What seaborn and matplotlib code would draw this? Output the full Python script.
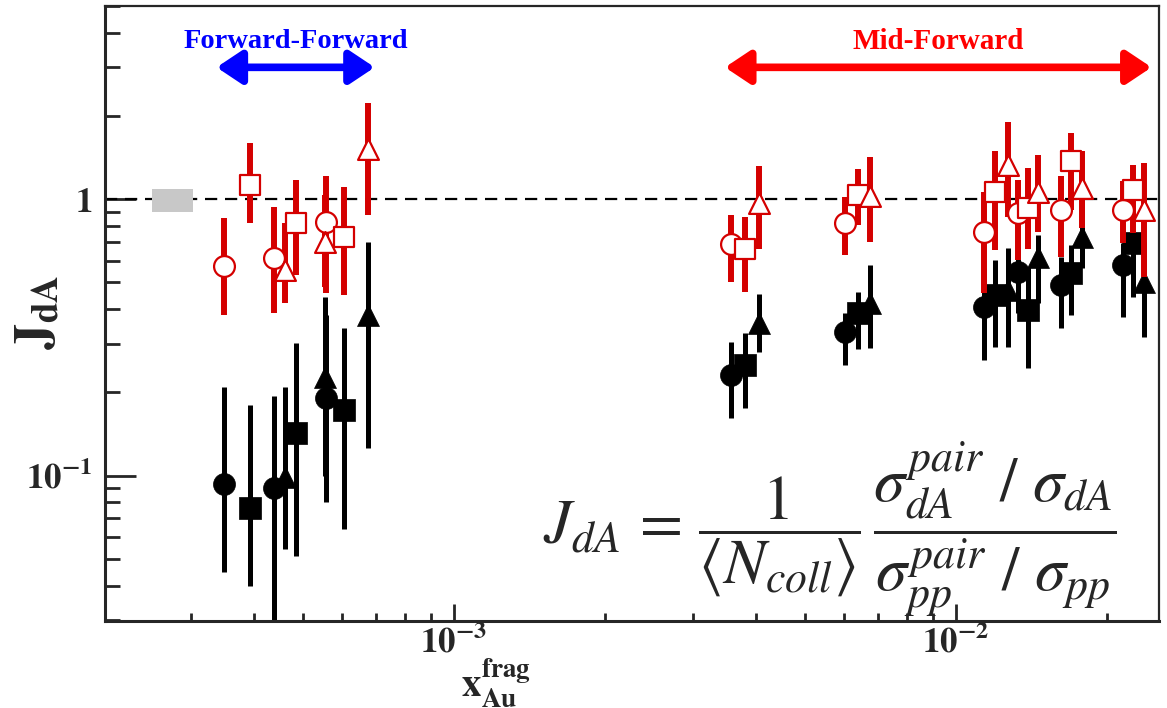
import seaborn as sns
import matplotlib.pyplot as plt
import matplotlib.ticker as mticker
import pandas as pd
import numpy as np

# x positions (x_Au^frag) for each marker shape, forward-forward then mid-forward
x_circle = [3.48e-4, 4.38e-4, 5.56e-4, 3.57e-3, 6.03e-3, 0.01137, 0.01329, 0.01619, 0.02151]
x_square = [3.93e-4, 4.84e-4, 6.04e-4, 3.80e-3, 6.38e-3, 0.01196, 0.01391, 0.01695, 0.02253]
x_triangle = [4.62e-4, 5.53e-4, 6.74e-4, 4.06e-3, 6.75e-3, 0.01269, 0.01457, 0.01782, 0.02368]

# red open markers: value, lower end, upper end of the bar
red_circle = [0.574, 0.613, 0.826, 0.689, 0.821, 0.763, 0.890, 0.915, 0.915]
red_circle_lo = [0.381, 0.388, 0.458, 0.502, 0.629, 0.457, 0.603, 0.620, 0.693]
red_circle_hi = [0.856, 0.938, 1.21, 0.877, 1.02, 1.065, 1.17, 1.21, 1.16]

red_square = [1.126, 0.821, 0.731, 0.661, 1.036, 1.065, 0.93, 1.37, 1.08]
red_square_lo = [0.821, 0.532, 0.451, 0.462, 0.807, 0.655, 0.66, 0.915, 0.755]
red_square_hi = [1.60, 1.17, 1.108, 0.862, 1.29, 1.49, 1.30, 1.74, 1.33]

red_triangle = [0.556, 0.70, 1.52, 0.97, 1.03, 1.33, 1.065, 1.096, 0.915]
red_triangle_lo = [0.421, 0.482, 0.877, 0.661, 0.70, 0.863, 0.76, 0.787, 0.525]
red_triangle_hi = [0.821, 1.035, 2.23, 1.32, 1.42, 1.91, 1.45, 1.49, 1.35]

# black filled markers
blk_circle = [0.0933, 0.0904, 0.191, 0.231, 0.331, 0.407, 0.547, 0.489, 0.578]
blk_circle_lo = [0.0449, 0.02, 0.0804, 0.162, 0.251, 0.262, 0.387, 0.341, 0.376]
blk_circle_hi = [0.2095, 0.194, 0.381, 0.305, 0.388, 0.564, 0.674, 0.620, 0.695]

blk_square = [0.0764, 0.143, 0.173, 0.252, 0.388, 0.450, 0.398, 0.540, 0.693]
blk_square_lo = [0.0399, 0.0513, 0.0641, 0.176, 0.287, 0.293, 0.245, 0.381, 0.444]
blk_square_hi = [0.180, 0.302, 0.342, 0.328, 0.461, 0.603, 0.570, 0.683, 0.755]

blk_triangle = [0.099, 0.2275, 0.381, 0.357, 0.421, 0.470, 0.620, 0.732, 0.503]
blk_triangle_lo = [0.0543, 0.100, 0.126, 0.280, 0.290, 0.293, 0.422, 0.563, 0.318]
blk_triangle_hi = [0.21, 0.443, 0.701, 0.454, 0.578, 0.666, 0.743, 1.04, 0.70]

# normalisation uncertainty box at J=1
norm_box_x = [2.51e-4, 3.02e-4]
norm_box_y = [0.90, 1.09]

# region arrows and labels
ff_range = [3.37e-4, 6.96e-4]
mf_range = [3.47e-3, 0.02455]
arrow_y = 3.0
label_y = 3.72

sns.set_style("ticks")
plt.rcParams["font.family"] = ["Liberation Serif", "DejaVu Serif"]
plt.rcParams["mathtext.fontset"] = "stix"

RED = "#d40000"

fig = plt.figure(figsize=(11.67, 7.08), dpi=100)
ax = fig.add_axes([105 / 1167, 1 - 621 / 708, 1054 / 1167, 615 / 708])
ax.set_xscale("log")
ax.set_yscale("log")
ax.set_xlim(2.02e-4, 0.0254)
ax.set_ylim(0.0298, 5.0)

shapes = [("o", x_circle), ("s", x_square), ("^", x_triangle)]
black = [(blk_circle, blk_circle_lo, blk_circle_hi),
         (blk_square, blk_square_lo, blk_square_hi),
         (blk_triangle, blk_triangle_lo, blk_triangle_hi)]
red = [(red_circle, red_circle_lo, red_circle_hi),
       (red_square, red_square_lo, red_square_hi),
       (red_triangle, red_triangle_lo, red_triangle_hi)]

# black filled points
for (m, xs), (ys, lo, hi) in zip(shapes, black):
    ys, lo, hi = np.array(ys), np.array(lo), np.array(hi)
    ax.errorbar(xs, ys, yerr=[ys - lo, hi - ys], fmt="none", ecolor="black",
                elinewidth=3.6, capsize=0, zorder=2)
    df = pd.DataFrame({"x": xs, "y": ys})
    sns.scatterplot(data=df, x="x", y="y", marker=m, s=250, color="black",
                    edgecolor="black", linewidth=0.5, ax=ax, zorder=3)

# red open points
for (m, xs), (ys, lo, hi) in zip(shapes, red):
    ys, lo, hi = np.array(ys), np.array(lo), np.array(hi)
    ax.errorbar(xs, ys, yerr=[ys - lo, hi - ys], fmt="none", ecolor=RED,
                elinewidth=4.3, capsize=0, zorder=4)
    df = pd.DataFrame({"x": xs, "y": ys})
    sns.scatterplot(data=df, x="x", y="y", marker=m, s=225, facecolor="white",
                    edgecolor=RED, linewidth=1.6, ax=ax, zorder=5)

ax.axhline(1, color="black", lw=1.6, ls=(0, (5.5, 3.5)), zorder=1)
ax.fill_between(norm_box_x, norm_box_y[0], norm_box_y[1], color="#c8c8c8",
                lw=0, zorder=1.5)

# region arrows
ax.annotate("", xy=(ff_range[1], arrow_y), xytext=(ff_range[0], arrow_y),
            arrowprops=dict(arrowstyle="<|-|>,head_length=1.5,head_width=1.0",
                            color="#0000ff", lw=5.5, shrinkA=0, shrinkB=0))
ax.annotate("", xy=(mf_range[1], arrow_y), xytext=(mf_range[0], arrow_y),
            arrowprops=dict(arrowstyle="<|-|>,head_length=1.5,head_width=1.0",
                            color="#ff0000", lw=5.5, shrinkA=0, shrinkB=0))
ax.text(np.sqrt(ff_range[0] * ff_range[1]), label_y, "Forward-Forward",
        color="#0000ff", fontsize=20.5, fontweight="bold", ha="center", va="center")
ax.text(np.sqrt(mf_range[0] * mf_range[1]), label_y, "Mid-Forward",
        color="#ff0000", fontsize=21, fontweight="bold", ha="center", va="center")

# axes styling
for side in ["left", "bottom"]:
    ax.spines[side].set_linewidth(2.2)
for side in ["top", "right"]:
    ax.spines[side].set_linewidth(1.6)
ax.set_xticks([1e-3, 1e-2])
ax.set_xticklabels([r"$\mathbf{10^{-3}}$", r"$\mathbf{10^{-2}}$"])
ax.set_yticks([0.1, 1])
ax.set_yticklabels([r"$\mathbf{10^{-1}}$", r"$\mathbf{1}$"])
ax.xaxis.set_minor_formatter(mticker.NullFormatter())
ax.yaxis.set_minor_formatter(mticker.NullFormatter())
ax.tick_params(axis="both", which="both", direction="in", top=False, right=False,
               width=2, labelsize=25)
ax.tick_params(axis="x", which="major", length=12, pad=3)
ax.tick_params(axis="x", which="minor", length=6)
ax.tick_params(axis="y", which="major", length=22, pad=9)
ax.tick_params(axis="y", which="minor", length=11)
ax.set_xlabel("")
ax.set_ylabel("")

fig.text(38 / 1167, 1 - 312 / 708, r"$\mathbf{J_{dA}}$", rotation=90,
         fontsize=38, ha="center", va="center")
fig.text(496 / 1167, 1 - 683 / 708, r"$\mathbf{x^{frag}_{Au}}$",
         fontsize=28, ha="center", va="center")

formula = (r"$J_{dA}\,=\,\dfrac{1}{\left\langle N_{coll}\right\rangle}\,"
           r"\dfrac{\sigma^{pair}_{dA}\ /\ \sigma_{dA}}{\sigma^{pair}_{pp}\ /\ \sigma_{pp}}$")
fig.text(830 / 1167, 1 - 530 / 708, formula, fontsize=45, ha="center", va="center")

fig.savefig("out.png", dpi=100)
